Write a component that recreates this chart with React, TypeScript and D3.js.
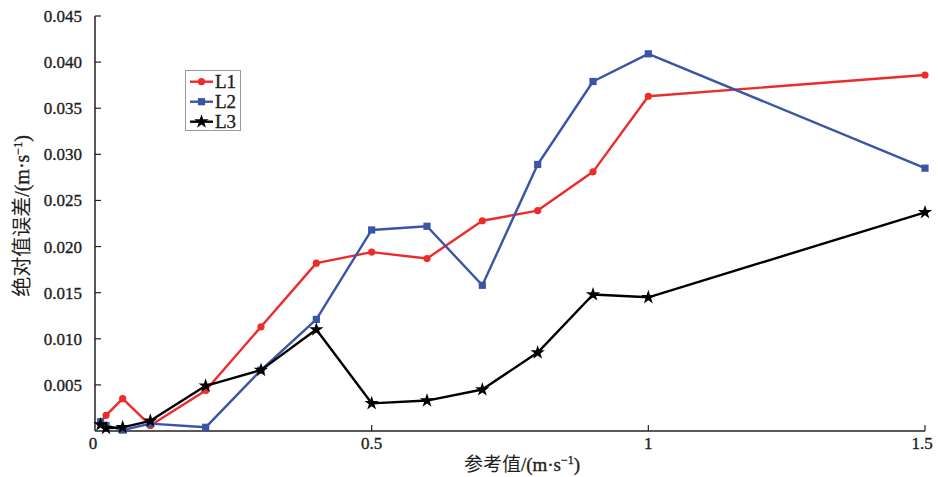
import React from "react";
import * as d3 from "d3";

const xValues = [0.01, 0.02, 0.05, 0.1, 0.2, 0.3, 0.4, 0.5, 0.6, 0.7, 0.8, 0.9, 1.0, 1.5];
const l1Values = [0.0010, 0.0017, 0.0035, 0.0006, 0.0044, 0.0113, 0.0182, 0.0194, 0.0187, 0.0228, 0.0239, 0.0281, 0.0363, 0.0386];
const l2Values = [0.0010, 0.0006, 0.0001, 0.0008, 0.0004, 0.0066, 0.0121, 0.0218, 0.0222, 0.0158, 0.0289, 0.0379, 0.0409, 0.0285];
const l3Values = [0.0007, 0.0003, 0.0004, 0.0011, 0.0049, 0.0066, 0.0110, 0.0030, 0.0033, 0.0045, 0.0085, 0.0148, 0.0145, 0.0237];
const xTicks = [0, 0.5, 1, 1.5];
const xTickLabels = ["0", "0.5", "1", "1.5"];
const yTicks = [0.005, 0.01, 0.015, 0.02, 0.025, 0.03, 0.035, 0.04, 0.045];
const yTickLabels = ["0.005", "0.010", "0.015", "0.020", "0.025", "0.030", "0.035", "0.040", "0.045"];
const seriesNames = ["L1", "L2", "L3"];

const W = 938, H = 477;
const x = d3.scaleLinear().domain([0, 1.5]).range([95, 925]);
const y = d3.scaleLinear().domain([0, 0.045]).range([431, 16]);

const colors = ["#ee2b2b", "#3a54a6", "#000000"];
const serif = "'Liberation Serif', 'DejaVu Serif', serif";
const cjk = "'Noto Sans CJK SC', sans-serif";
const ink = "#1e1e1e";

function Marker({ kind, cx, cy, color }: { kind: number; cx: number; cy: number; color: string }) {
  if (kind === 0) return <circle cx={cx} cy={cy} r={3.6} fill={color} />;
  if (kind === 1) return <rect x={cx - 3.6} y={cy - 3.6} width={7.2} height={7.2} fill={color} />;
  const p = d3.symbol().type(d3.symbolStar).size(64)()!;
  return <path d={p} transform={`translate(${cx},${cy})`} fill={color} />;
}

export default function App() {
  const all = [l1Values, l2Values, l3Values];
  const line = d3.line<number>().x((_, i) => x(xValues[i])).y((d) => y(d));
  const bold = { stroke: ink, strokeWidth: 0.35 };
  return (
    <svg width={W} height={H} style={{ position: "absolute", left: 0, top: 0, background: "#fff" }}>
      {/* axes */}
      <line x1={x(0)} x2={x(1.5)} y1={y(0)} y2={y(0)} stroke="#222" strokeWidth={1.5} />
      <line x1={x(0)} x2={x(0)} y1={y(0)} y2={y(0.045)} stroke="#222" strokeWidth={1.5} />
      {xTicks.map((t, i) => (
        <g key={"xt" + i}>
          {i > 0 && <line x1={x(t)} x2={x(t)} y1={y(0)} y2={y(0) - 6} stroke="#222" strokeWidth={1.2} />}
          <text x={x(t) - (i === 0 ? 2 : i === 3 ? 3 : 0)} y={449} textAnchor="middle" fontFamily={serif} fontSize={17} fill={ink} {...bold}>
            {xTickLabels[i]}
          </text>
        </g>
      ))}
      {yTicks.map((t, i) => (
        <g key={"yt" + i}>
          <line x1={x(0)} x2={x(0) + 6} y1={y(t)} y2={y(t)} stroke="#222" strokeWidth={1.2} />
          <text x={82} y={y(t) + 6} textAnchor="end" fontFamily={serif} fontSize={17} fill={ink} {...bold}>
            {yTickLabels[i]}
          </text>
        </g>
      ))}
      {/* axis titles */}
      <text x={522} y={471} textAnchor="middle" fontSize={19} fill={ink}>
        <tspan fontFamily={cjk}>参考值</tspan>
        <tspan fontFamily={serif} {...bold}>/(m·s</tspan>
        <tspan fontFamily={serif} fontSize={12} dy={-7} {...bold}>−1</tspan>
        <tspan fontFamily={serif} dy={7} {...bold}>)</tspan>
      </text>
      <text transform="translate(29,216) rotate(-90)" textAnchor="middle" fontSize={20} fill={ink}>
        <tspan fontFamily={cjk}>绝对值误差</tspan>
        <tspan fontFamily={serif} {...bold}>/(m·s</tspan>
        <tspan fontFamily={serif} fontSize={12} dy={-7} {...bold}>−1</tspan>
        <tspan fontFamily={serif} dy={7} {...bold}>)</tspan>
      </text>
      {/* series */}
      {all.map((vals, si) => (
        <g key={"s" + si}>
          <path d={line(vals)!} fill="none" stroke={colors[si]} strokeWidth={2.4} strokeLinejoin="round" />
          {vals.map((v, i) => (
            <Marker key={i} kind={si} cx={x(xValues[i])} cy={y(v)} color={colors[si]} />
          ))}
        </g>
      ))}
      {/* legend */}
      <rect x={185.5} y={70.5} width={55} height={60} fill="#fff" stroke="#999" strokeWidth={1} />
      {seriesNames.map((n, i) => {
        const ly = 81.7 + i * 20;
        return (
          <g key={"lg" + i}>
            <line x1={190} x2={213} y1={ly} y2={ly} stroke={colors[i]} strokeWidth={2.4} />
            <Marker kind={i} cx={201.5} cy={ly} color={colors[i]} />
            <text x={215} y={ly + 6.5} fontFamily={serif} fontSize={19} fill={ink} {...bold}>{n}</text>
          </g>
        );
      })}
    </svg>
  );
}
